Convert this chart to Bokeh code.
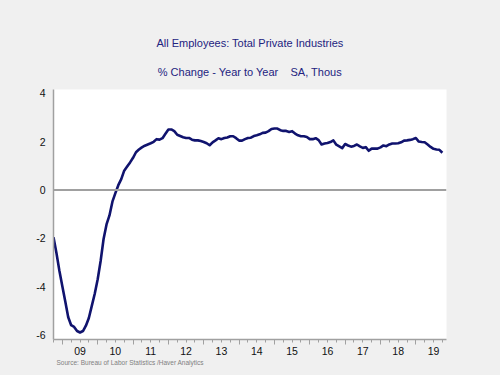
from bokeh.plotting import figure
from bokeh.models import FixedTicker, Span, Title
from bokeh.embed import file_html
from bokeh.resources import INLINE

# ---- data ----
title_line1 = "All Employees: Total Private Industries"
title_line2 = "% Change - Year to Year\u00a0\u00a0\u00a0 SA, Thous"
source_text = "Source:  Bureau of Labor Statistics /Haver Analytics"

start_year = 2008
start_month = 10  # first observation: Oct 2008, monthly

pct_change = [
    -1.95, -2.6, -3.33,                                                    # 2008 Oct-Dec
    -3.97, -4.6, -5.25, -5.58, -5.65, -5.82, -5.88, -5.82, -5.6, -5.28, -4.78, -4.28,  # 2009
    -3.68, -2.93, -2.02, -1.42, -1.05, -0.48, -0.13, 0.2, 0.45, 0.8, 0.97, 1.14,        # 2010
    1.33, 1.56, 1.67, 1.76, 1.83, 1.88, 1.93, 1.99, 2.1, 2.08, 2.14, 2.32,              # 2011
    2.5, 2.5, 2.43, 2.28, 2.23, 2.18, 2.15, 2.15, 2.08, 2.05, 2.05, 2.02,               # 2012
    1.98, 1.93, 1.85, 1.97, 2.05, 2.14, 2.1, 2.15, 2.17, 2.22, 2.22, 2.14,              # 2013
    2.04, 2.04, 2.1, 2.15, 2.16, 2.23, 2.26, 2.3, 2.36, 2.37, 2.43, 2.52,               # 2014
    2.54, 2.54, 2.47, 2.44, 2.44, 2.4, 2.43, 2.33, 2.26, 2.22, 2.22, 2.19,              # 2015
    2.1, 2.1, 2.14, 2.06, 1.88, 1.92, 1.94, 1.98, 2.05, 1.87, 1.8, 1.73,                # 2016
    1.9, 1.84, 1.79, 1.82, 1.88, 1.8, 1.74, 1.77, 1.62, 1.71, 1.71, 1.71,               # 2017
    1.76, 1.84, 1.81, 1.88, 1.92, 1.92, 1.93, 1.97, 2.04, 2.05, 2.07, 2.1,              # 2018
    2.15, 2.0, 1.98, 1.97, 1.88, 1.78, 1.7, 1.67, 1.66, 1.54,                           # 2019 Jan-Oct
]

label_years = list(range(2009, 2020))
year_labels = ["09", "10", "11", "12", "13", "14", "15", "16", "17", "18", "19"]
y_ticks = [-6, -4, -2, 0, 2, 4]
y_tick_labels = ["-6", "-4", "-2", "0", "2", "4"]

# ---- derived positions ----
xs = [start_year + (start_month - 1 + i) / 12 for i in range(len(pct_change))]
x_start = xs[0]
x_end = 2019.867

bg = "#f0f0f0"
navy = "#10136e"
title_color = "#23237f"
axis_gray = "#a0a0a0"

p = figure(width=500, height=375, output_backend="svg", toolbar_location=None,
           x_range=(x_start, x_end), y_range=(-6.17, 4.15),
           min_border_left=53, min_border_right=54, min_border_top=89, min_border_bottom=36,
           background_fill_color="white", border_fill_color=bg, outline_line_color=None)
p.grid.visible = False

# zero line
p.add_layout(Span(location=0, dimension="width", line_color=axis_gray, line_width=2))

p.line(xs, pct_change, line_color=navy, line_width=2.6, line_join="round")

# x axis: quarterly ticks (short), year boundary ticks (long), labels mid-year
quarter_ticks = [x_start + 0.25 * k for k in range(int((x_end - x_start) / 0.25) + 1)]
year_ticks = [float(y) for y in range(2009, 2020)]
xa = p.xaxis[0]
xa.ticker = FixedTicker(ticks=quarter_ticks, minor_ticks=year_ticks)
overrides = {t: "" for t in quarter_ticks}
for yr, lab in zip(label_years, year_labels):
    overrides[yr + 0.5] = lab
xa.major_label_overrides = overrides
xa.major_tick_out = 3
xa.major_tick_in = 0
xa.minor_tick_out = 5
xa.minor_tick_in = 0
xa.axis_line_color = axis_gray
xa.axis_line_width = 1.5
xa.major_tick_line_color = axis_gray
xa.minor_tick_line_color = axis_gray
xa.major_label_text_font = "Liberation Sans"
xa.major_label_text_font_size = "10.5px"
xa.major_label_text_color = "#111111"
xa.major_label_standoff = 2

ya = p.yaxis[0]
ya.ticker = FixedTicker(ticks=y_ticks, minor_ticks=[])
ya.major_label_overrides = {t: s for t, s in zip(y_ticks, y_tick_labels)}
ya.major_tick_out = 0
ya.major_tick_in = 0
ya.minor_tick_out = 0
ya.minor_tick_in = 0
ya.axis_line_color = axis_gray
ya.axis_line_width = 1.5
ya.major_label_text_font = "Liberation Sans"
ya.major_label_text_font_size = "10.5px"
ya.major_label_text_color = "#111111"
ya.major_label_standoff = 8

# titles
t2 = Title(text=title_line2, align="center", text_font="Liberation Sans",
           text_font_size="11px", text_font_style="normal", text_color=title_color, standoff=24)
t1 = Title(text=title_line1, align="center", text_font="Liberation Sans",
           text_font_size="11px", text_font_style="normal", text_color=title_color, standoff=6)
p.add_layout(t2, "above")
p.add_layout(t1, "above")

src = Title(text=source_text, align="left", offset=3, text_font="Liberation Sans",
            text_font_size="6.5px", text_font_style="normal", text_color="#808080", standoff=-2)
p.add_layout(src, "below")

html = file_html(p, INLINE)
html = html.replace("</head>", "<style>html, body { background-color: %s; }</style></head>" % bg, 1)
open("out.html", "w").write(html)
